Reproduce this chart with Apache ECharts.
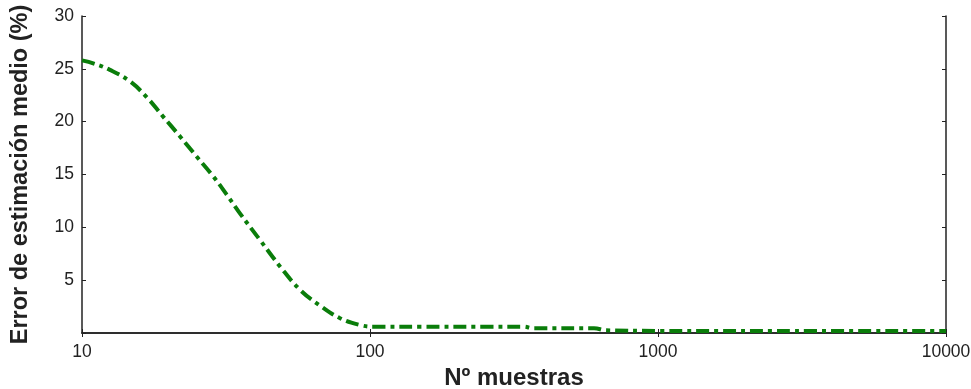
<!DOCTYPE html>
<html>
<head>
<meta charset="utf-8">
<script src="https://cdn.jsdelivr.net/npm/echarts@6/dist/echarts.min.js"></script>
<style>
html,body{margin:0;padding:0;background:#fff;}
#chart{width:971px;height:389px;}
</style>
</head>
<body>
<div id="chart"></div>
<script>
// muestras (log x) y error medio (%)
var muestras = [10, 11, 12.5, 14.7, 16.8, 19.1, 21.9, 25, 28.6, 31.8, 35.4, 41.5, 48.7, 57.1, 67, 78.7, 92.2, 103, 150, 250, 340, 370, 600, 660, 1000, 3000, 10000];
var errorMedio = [25.8, 25.5, 24.9, 23.8, 22.3, 20.5, 18.6, 16.7, 14.8, 13.1, 11.3, 8.8, 6.3, 4.1, 2.6, 1.4, 0.76, 0.6, 0.6, 0.6, 0.6, 0.45, 0.45, 0.25, 0.2, 0.2, 0.2];
var yTicks = [0, 5, 10, 15, 20, 25, 30];

var serie = [];
for (var i = 0; i < muestras.length; i++) {
	serie.push([muestras[i], errorMedio[i]]);
}

var chart = echarts.init(document.getElementById('chart'));
var fuente = 'Liberation Sans, Arial, sans-serif';
var lineaEje = {show: true, lineStyle: {color: '#222', width: 1.5}};
var marca = {show: true, inside: true, length: 4, lineStyle: {color: '#222'}};
var options = {
	animation: false,
	grid: {left: 82, right: 25, top: 16, bottom: 56, outerBoundsMode: 'none', containLabel: false},
	xAxis: [{
		type: 'log',
		logBase: 10,
		min: 10,
		max: 10000,
		name: 'Nº muestras',
		nameLocation: 'middle',
		nameGap: 25,
		nameTextStyle: {fontFamily: fuente, fontSize: 24, fontWeight: 'bold', color: '#222'},
		axisLine: lineaEje,
		axisTick: marca,
		minorTick: {show: false},
		axisLabel: {
			fontFamily: fuente, fontSize: 17.5, color: '#222', margin: 10,
			formatter: function (v) { return String(Math.round(v)); }
		},
		splitLine: {show: false}
	}, {
		type: 'log',
		logBase: 10,
		min: 10,
		max: 10000,
		position: 'top',
		axisLine: lineaEje,
		axisTick: marca,
		axisLabel: {show: false},
		splitLine: {show: false}
	}],
	yAxis: [{
		type: 'value',
		min: yTicks[0],
		max: yTicks[yTicks.length - 1],
		interval: 5,
		name: 'Error de estimación medio (%)',
		nameLocation: 'middle',
		nameGap: 49,
		nameTextStyle: {fontFamily: fuente, fontSize: 23.5, fontWeight: 'bold', color: '#222'},
		axisLine: lineaEje,
		axisTick: marca,
		axisLabel: {
			fontFamily: fuente, fontSize: 17.5, color: '#222', margin: 8,
			formatter: function (v) { return v === 0 ? '' : v; }
		},
		splitLine: {show: false}
	}, {
		type: 'value',
		min: yTicks[0],
		max: yTicks[yTicks.length - 1],
		interval: 5,
		position: 'right',
		axisLine: lineaEje,
		axisTick: marca,
		axisLabel: {show: false},
		splitLine: {show: false}
	}],
	series: [{
		type: 'line',
		data: serie,
		smooth: 0.4,
		showSymbol: false,
		lineStyle: {color: '#0a7d0a', width: 4, type: [13, 5, 4, 5]}
	}]
};
chart.setOption(options);
</script>
</body>
</html>
